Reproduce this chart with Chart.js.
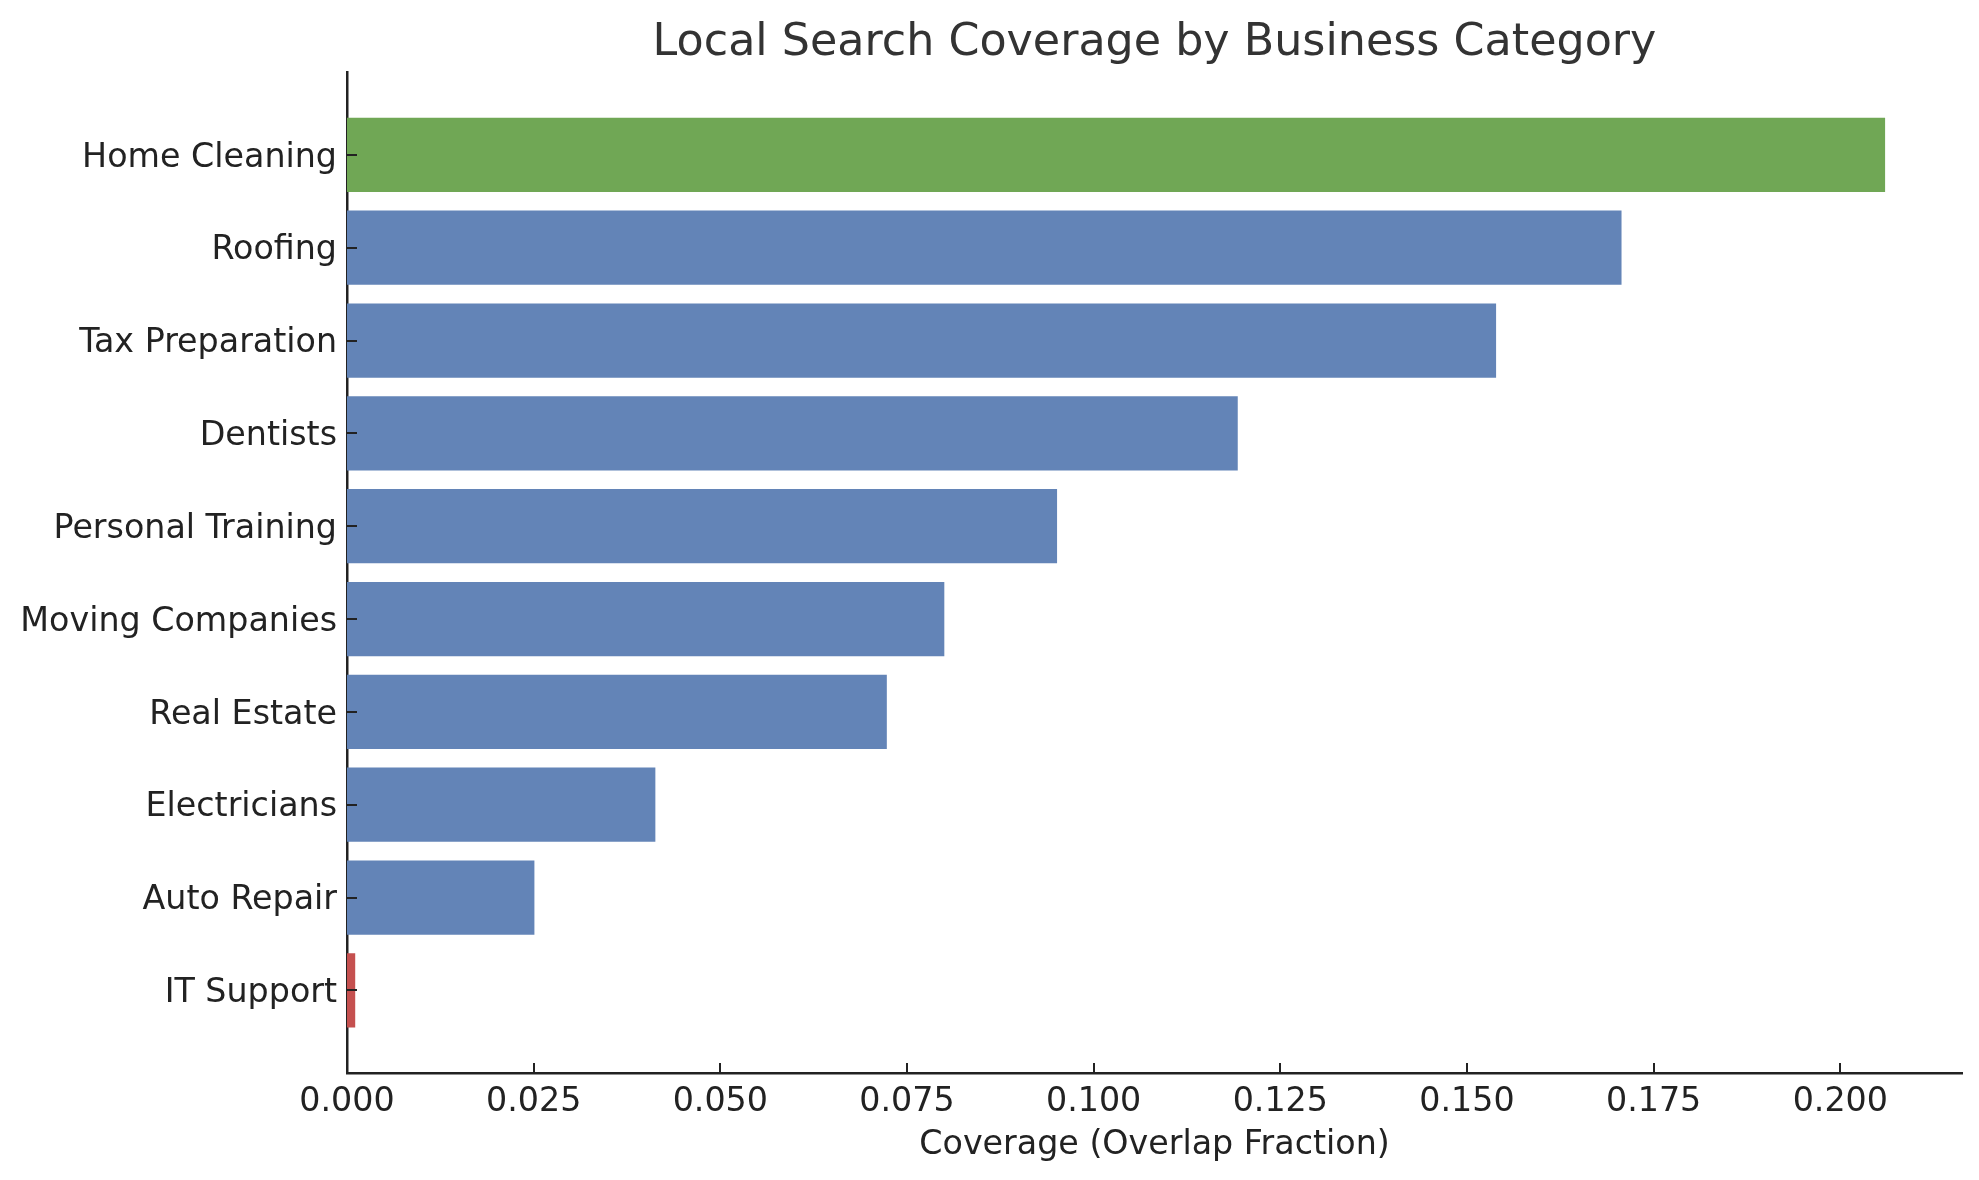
<!DOCTYPE html>
<html>
<head>
<meta charset="utf-8">
<script src="https://cdn.jsdelivr.net/npm/chart.js@4/dist/chart.umd.min.js"></script>
<style>
  body { margin: 0; background: #fff; }
  canvas { display: block; }
</style>
</head>
<body>
<canvas id="coverageChart" width="1979" height="1180"></canvas>
<script>
  // categories top to bottom
  const categories = [
    "Home Cleaning", "Roofing", "Tax Preparation", "Dentists", "Personal Training",
    "Moving Companies", "Real Estate", "Electricians", "Auto Repair", "IT Support"
  ];
  const coverage = [0.2060, 0.1707, 0.1539, 0.1193, 0.0951, 0.0800, 0.0723, 0.0413, 0.0251, 0.0011];
  const xTicks = [0, 0.025, 0.05, 0.075, 0.1, 0.125, 0.15, 0.175, 0.2];

  // best category green, worst red, rest blue
  const maxVal = Math.max(...coverage);
  const minVal = Math.min(...coverage);
  const barColors = coverage.map((v) =>
    v === maxVal ? "#70a755" : v === minVal ? "#c5504f" : "#6384b7"
  );

  const font = "'DejaVu Sans', 'Liberation Sans', sans-serif";
  Chart.defaults.font.family = font;

  // matplotlib style ticks pointing into the plot
  const inwardTicks = {
    id: "inwardTicks",
    afterDraw(chart) {
      const ctx = chart.ctx;
      const { x, y } = chart.scales;
      const area = chart.chartArea;
      ctx.save();
      ctx.strokeStyle = "#222222";
      ctx.lineWidth = 2;
      x.ticks.forEach((t) => {
        const px = Math.round(x.getPixelForValue(t.value));
        ctx.beginPath();
        ctx.moveTo(px, area.bottom);
        ctx.lineTo(px, area.bottom - 10);
        ctx.stroke();
      });
      y.ticks.forEach((t) => {
        const py = Math.round(y.getPixelForValue(t.value));
        ctx.beginPath();
        ctx.moveTo(area.left, py);
        ctx.lineTo(area.left + 10, py);
        ctx.stroke();
      });
      ctx.restore();
    },
  };

  new Chart(document.getElementById("coverageChart"), {
    type: "bar",
    data: {
      datasets: [
        {
          data: coverage.map((v, i) => ({ x: v, y: i })),
          backgroundColor: barColors,
          borderWidth: 0,
          barPercentage: 1.0,
          categoryPercentage: 0.8,
        },
      ],
    },
    options: {
      indexAxis: "y",
      responsive: false,
      devicePixelRatio: 1,
      animation: false,
      layout: { padding: { left: 0, right: 17, top: 0, bottom: 0 } },
      plugins: {
        legend: { display: false },
        tooltip: { enabled: false },
        title: {
          display: true,
          text: "Local Search Coverage by Business Category",
          color: "#333333",
          font: { size: 44.4, weight: "normal" },
          padding: { top: 17, bottom: 2 },
          fullSize: false,
        },
      },
      scales: {
        x: {
          type: "linear",
          min: 0,
          max: maxVal * 1.05,
          afterBuildTicks: (scale) => {
            scale.ticks = xTicks.map((v) => ({ value: v }));
          },
          afterFit: (scale) => {
            scale.height = 107;
          },
          ticks: {
            color: "#222222",
            font: { size: 33.3 },
            padding: 9,
            autoSkip: false,
            maxRotation: 0,
            callback: (v) => Number(v).toFixed(3),
          },
          grid: { display: false, drawTicks: false },
          border: { display: true, color: "#222222", width: 2.5 },
          title: {
            display: true,
            text: "Coverage (Overlap Fraction)",
            color: "#222222",
            font: { size: 33.3 },
            padding: { top: 0, bottom: 15 },
          },
        },
        y: {
          type: "linear",
          reverse: true,
          offset: false,
          min: -0.89,
          max: categories.length - 1 + 0.89,
          afterBuildTicks: (scale) => {
            scale.ticks = categories.map((c, i) => ({ value: i }));
          },
          afterFit: (scale) => {
            scale.width = 347;
          },
          ticks: {
            color: "#222222",
            // small line height + empty first line nudges labels down a few px
            font: { size: 33.3, lineHeight: "6px" },
            padding: 10,
            autoSkip: false,
            callback: (v) => ["", categories[v] || ""],
          },
          grid: { display: false, drawTicks: false, offset: false },
          border: { display: true, color: "#222222", width: 2.5 },
        },
      },
    },
    plugins: [inwardTicks],
  });
</script>
</body>
</html>
